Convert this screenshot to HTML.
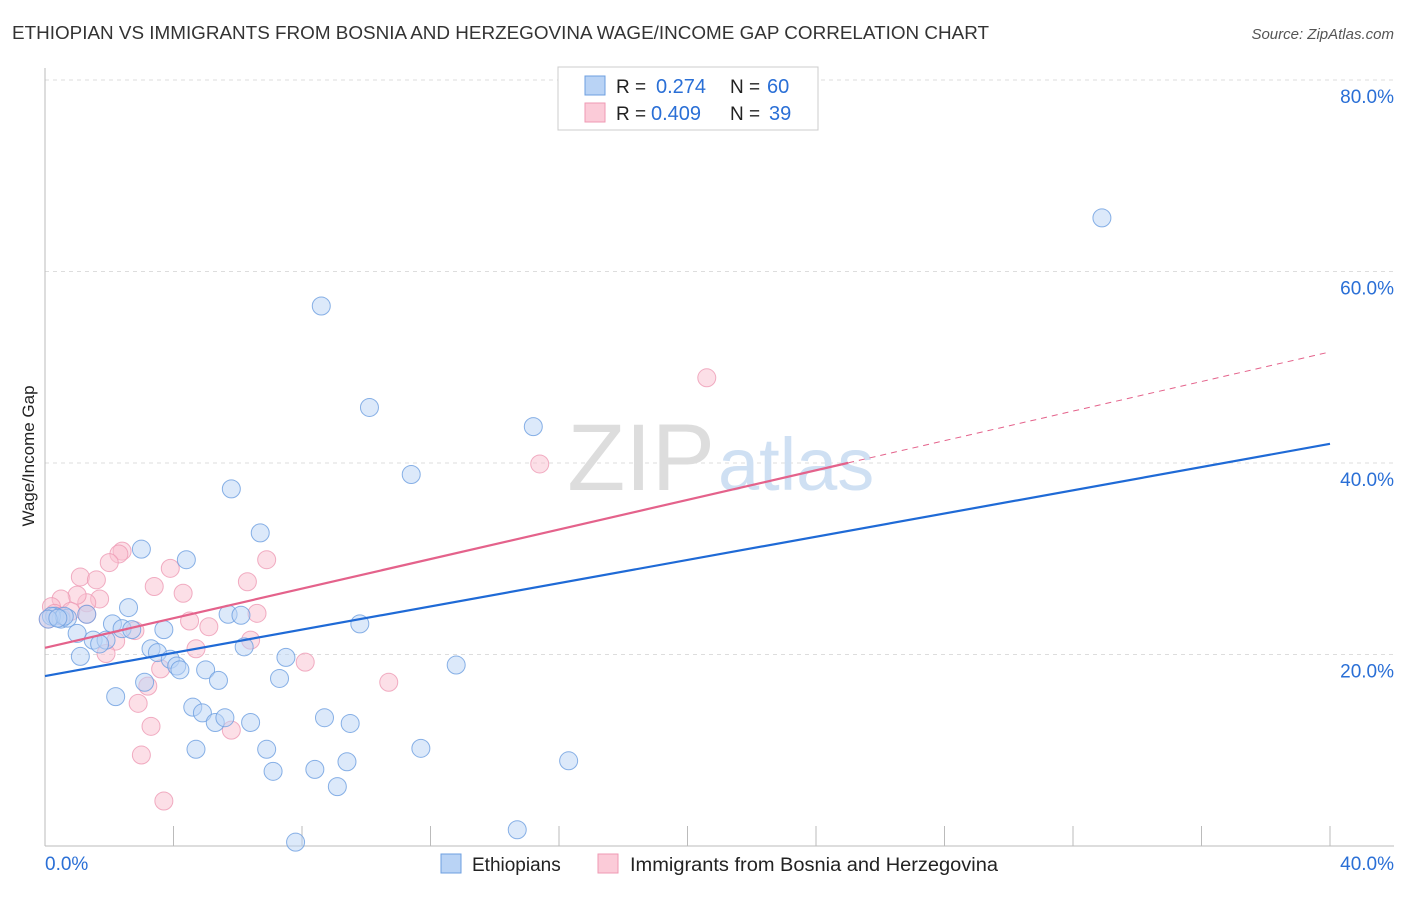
<!DOCTYPE html>
<html><head><meta charset="utf-8"><style>
body{margin:0;background:#fff;font-family:"Liberation Sans",sans-serif;}
svg text{font-family:"Liberation Sans",sans-serif;}
</style></head><body>
<svg width="1406" height="892" xmlns="http://www.w3.org/2000/svg">
<text x="12" y="39" font-size="18" fill="#333" textLength="977" lengthAdjust="spacingAndGlyphs">ETHIOPIAN VS IMMIGRANTS FROM BOSNIA AND HERZEGOVINA WAGE/INCOME GAP CORRELATION CHART</text>
<text x="1394" y="39" font-size="15" fill="#555" text-anchor="end" font-style="italic">Source: ZipAtlas.com</text>
<g id="grid"></g>
<text x="715" y="490" font-size="95" fill="#ddd" text-anchor="end" font-family="Liberation Serif">ZIP</text>
<text x="718" y="490" font-size="74" fill="#cfe0f3">atlas</text>
<g id="marks"></g>
<text x="34" y="456" font-size="17" fill="#222" text-anchor="middle" transform="rotate(-90 34 456)">Wage/Income Gap</text>
<g>
<rect x="558" y="67" width="260" height="63" fill="#fff" stroke="#ccc"/>
<rect x="585" y="76" width="20" height="19" fill="#b9d3f5" stroke="#6d9fe0"/>
<rect x="585" y="103" width="20" height="19" fill="#fbcbd8" stroke="#ef9ab3"/>
<text x="616" y="93" font-size="19" fill="#222">R = </text><text x="656" y="93" font-size="20" fill="#2a6fd6">0.274</text>
<text x="730" y="93" font-size="19" fill="#222">N = </text><text x="767" y="93" font-size="20" fill="#2a6fd6">60</text>
<text x="616" y="120" font-size="19" fill="#222">R = </text><text x="651" y="120" font-size="20" fill="#2a6fd6">0.409</text>
<text x="730" y="120" font-size="19" fill="#222">N = </text><text x="769" y="120" font-size="20" fill="#2a6fd6">39</text>
</g>
<g>
<rect x="441" y="854" width="20" height="19" fill="#b9d3f5" stroke="#6d9fe0"/>
<text x="472" y="871" font-size="19" fill="#222">Ethiopians</text>
<rect x="598" y="854" width="20" height="19" fill="#fbcbd8" stroke="#ef9ab3"/>
<text x="630" y="871" font-size="19" fill="#222" textLength="368" lengthAdjust="spacingAndGlyphs">Immigrants from Bosnia and Herzegovina</text>
</g>
<text x="45" y="870" font-size="19" fill="#2a6fd6">0.0%</text>
<text x="1394" y="870" font-size="19" fill="#2a6fd6" text-anchor="end">40.0%</text>
</svg>
<script>
const yTicks=[20,40,60,80];
const blueX=[32.9,8.6,10.1,15.2,11.4,5.8,6.7,3.0,4.4,2.6,5.7,6.1,9.8,2.1,2.4,2.7,3.7,1.0,1.5,1.9,1.7,6.2,3.3,3.5,3.9,1.1,7.5,4.1,4.2,5.0,12.8,5.4,7.3,3.1,2.2,4.6,4.9,5.3,5.6,6.4,8.7,9.5,4.7,6.9,11.7,7.1,8.4,9.4,16.3,9.1,7.8,14.7,0.3,0.5,0.7,0.2,1.3,0.6,0.1,0.4];
const blueY=[65.6,56.4,45.8,43.8,38.8,37.3,32.7,31.0,29.9,24.9,24.2,24.1,23.2,23.2,22.7,22.6,22.6,22.2,21.5,21.5,21.1,20.8,20.6,20.2,19.5,19.8,19.7,18.8,18.4,18.4,18.9,17.3,17.5,17.1,15.6,14.5,13.9,12.9,13.4,12.9,13.4,12.8,10.1,10.1,10.2,7.8,8.0,8.8,8.9,6.2,0.4,1.7,24.0,23.7,23.8,24.0,24.2,24.0,23.7,23.8];
const pinkX=[20.6,15.4,2.4,2.3,2.0,1.1,1.6,3.4,3.9,4.3,6.3,6.9,1.7,1.3,1.0,1.3,2.8,2.2,1.9,5.1,4.5,6.6,6.4,4.7,3.6,8.1,3.2,2.9,3.3,5.8,10.7,3.0,3.7,0.5,0.2,0.3,0.1,0.8,0.5];
const pinkY=[48.9,39.9,30.8,30.5,29.6,28.1,27.8,27.1,29.0,26.4,27.6,29.9,25.8,25.4,26.2,24.2,22.5,21.4,20.1,22.9,23.5,24.3,21.5,20.6,18.5,19.2,16.7,14.9,12.5,12.1,17.1,9.5,4.7,25.8,25.0,24.3,23.7,24.5,24.0];
const blueTrend=[17.75,42.0];
const pinkTrend=[20.7,51.6];
const pinkSolidEnd=25.0;
const X=v=>45+v/40*1285, Y=v=>846-v*9.575;
const NS='http://www.w3.org/2000/svg';
const grid=document.getElementById('grid'), marks=document.getElementById('marks'), svg=document.querySelector('svg');
function mk(tag,at,parent){const e=document.createElementNS(NS,tag);for(const k in at)e.setAttribute(k,at[k]);(parent||svg).appendChild(e);return e;}
yTicks.forEach(t=>{
 const l=mk('line',{x1:45,x2:1394,y1:Y(t),y2:Y(t),stroke:'#ddd','stroke-dasharray':'4,4'},grid);
 
 
 const tx=mk('text',{x:1394,y:Y(t)+23,'font-size':19,fill:'#2a6fd6','text-anchor':'end'},grid);
 tx.textContent=t.toFixed(1)+'%';
 
 
});
const ax=mk('line',{x1:45,x2:1394,y1:846,y2:846,stroke:'#bbb'},grid);


const ay=mk('line',{x1:45,x2:45,y1:68,y2:846,stroke:'#bbb'},grid);


for(let i=1;i<=10;i++){const t=mk('line',{x1:X(i*4),x2:X(i*4),y1:826,y2:846,stroke:'#bbb'},grid);
 
 }
function pts(xs,ys,fill,stroke,name){xs.forEach((x,i)=>{const c=mk('circle',{cx:X(x),cy:Y(ys[i]),r:9,fill:fill,'fill-opacity':0.5,stroke:stroke,'stroke-opacity':0.8,'stroke-width':1},marks);
 
 });}
pts(pinkX,pinkY,'#f9c0d0','#ee9ab4','pink-point');
pts(blueX,blueY,'#b9d3f5','#6c9ee0','blue-point');
const lerp=(tr,x)=>tr[0]+(tr[1]-tr[0])*x/40;
const bl=mk('line',{x1:X(0),y1:Y(blueTrend[0]),x2:X(40),y2:Y(blueTrend[1]),stroke:'#1f6ad6','stroke-width':2.2},marks);


const pl=mk('line',{x1:X(0),y1:Y(pinkTrend[0]),x2:X(pinkSolidEnd),y2:Y(lerp(pinkTrend,pinkSolidEnd)),stroke:'#e4628b','stroke-width':2.2},marks);


const pd=mk('line',{x1:X(pinkSolidEnd),y1:Y(lerp(pinkTrend,pinkSolidEnd)),x2:X(40),y2:Y(pinkTrend[1]),stroke:'#e4628b','stroke-width':1,'stroke-dasharray':'6,5'},marks);


</script>
</body></html>
